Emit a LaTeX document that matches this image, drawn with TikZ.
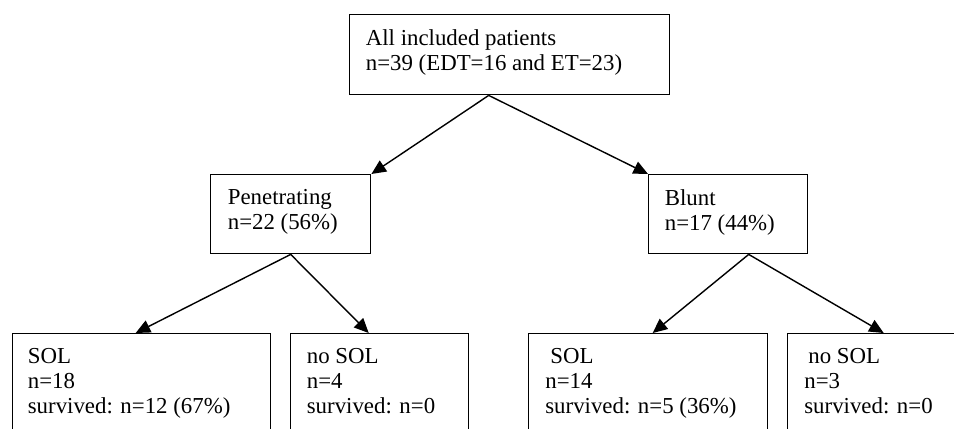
\documentclass[tikz,border=0pt]{standalone}
\usepackage{fontspec}
\setmainfont{Liberation Serif}
\usepackage{tikz}
\usetikzlibrary{arrows.meta, positioning, calc}

\begin{document}
\begin{tikzpicture}[
  box/.style={draw, line width=0.8pt, anchor=north west, inner sep=0pt},
  txt/.style={anchor=north west, inner sep=0pt, align=left,
    font=\fontsize{13}{14.2}\selectfont},
  arr/.style={line width=0.8pt, -{Triangle[length=0.29cm, width=0.26cm]}}
]
  \useasboundingbox (0, 0) rectangle (19.08, 8.56);
  \clip (0, 0) rectangle (19.08, 8.56);

  % Top: all patients
  \node[box, minimum width=6.40cm, minimum height=1.60cm] (all) at (6.98, 8.28) {};
  \node[txt] (allText) at ($(all.north west) + (0.33, -0.31)$)
    {All included patients\\n=39 (EDT=16 and ET=23)};

  % Middle: mechanism of injury
  \node[box, minimum width=3.20cm, minimum height=1.58cm] (pen) at (4.20, 5.08) {};
  \node[txt] (penText) at ($(pen.north west) + (0.35, -0.31)$)
    {Penetrating\\n=22 (56\%)};

  \node[box, minimum width=3.18cm, minimum height=1.58cm] (blunt) at (12.96, 5.08) {};
  \node[txt] (bluntText) at ($(blunt.north west) + (0.33, -0.31)$)
    {Blunt\\n=17 (44\%)};

  % Bottom: SOL / no SOL (boxes run off the lower edge)
  \node[box, minimum width=5.16cm, minimum height=2.5cm] (penSol) at (0.24, 1.90) {};
  \node[txt] (penSolText) at ($(penSol.north west) + (0.31, -0.31)$)
    {SOL\\n=18\\survived: n=12 (67\%)};

  \node[box, minimum width=3.56cm, minimum height=2.5cm] (penNoSol) at (5.80, 1.90) {};
  \node[txt] (penNoSolText) at ($(penNoSol.north west) + (0.33, -0.31)$)
    {no SOL\\n=4\\survived: n=0};

  \node[box, minimum width=4.78cm, minimum height=2.5cm] (bluntSol) at (10.56, 1.90) {};
  \node[txt] (bluntSolText) at ($(bluntSol.north west) + (0.34, -0.31)$)
    {\hspace{0.1cm}SOL\\n=14\\survived: n=5 (36\%)};

  \node[box, minimum width=4.26cm, minimum height=2.5cm] (bluntNoSol) at (15.74, 1.90) {};
  \node[txt] (bluntNoSolText) at ($(bluntNoSol.north west) + (0.34, -0.31)$)
    {\hspace{0.08cm}no SOL\\n=3\\survived: n=0};

  % Arrows
  \draw[arr] ([xshift=-0.42cm]all.south) -- (pen.north east);
  \draw[arr] ([xshift=-0.42cm]all.south) -- (blunt.north west);
  \draw[arr] (pen.south) -- ([xshift=-0.12cm]penSol.north);
  \draw[arr] (pen.south) -- ([xshift=-0.22cm]penNoSol.north);
  \draw[arr] ([xshift=0.41cm]blunt.south) -- ([xshift=0.09cm]bluntSol.north);
  \draw[arr] ([xshift=0.41cm]blunt.south) -- ([xshift=-0.21cm]bluntNoSol.north);
\end{tikzpicture}
\end{document}
